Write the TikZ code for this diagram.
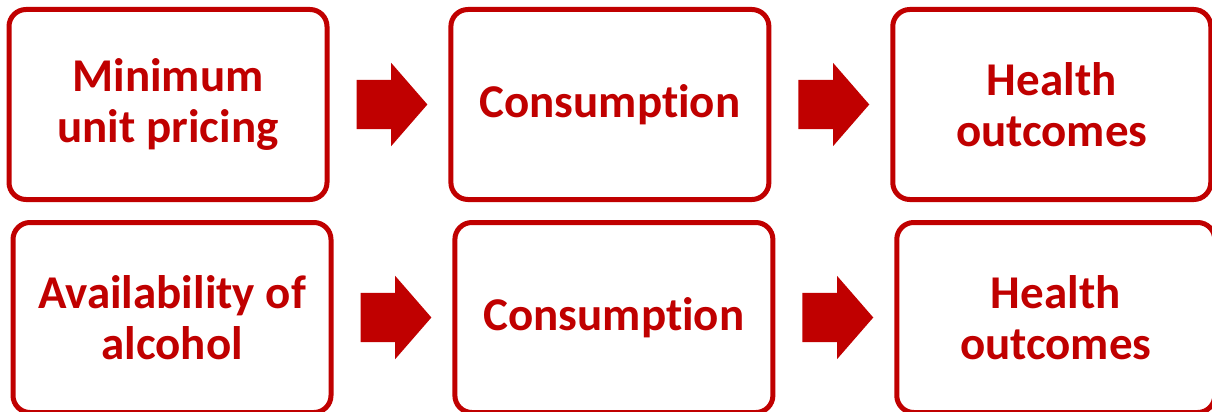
\documentclass[tikz,border=0pt]{standalone}
\usepackage{fontspec}
\setmainfont{Carlito}[Ligatures=NoCommon]
\usetikzlibrary{positioning,shapes.arrows}
\definecolor{pricered}{HTML}{C00000}
\tikzset{
    chainbox/.style={draw=pricered, line width=5pt, rounded corners=17pt, align=center, minimum width=318pt, minimum height=190pt, text=pricered, font=\fontsize{47}{51.6}\selectfont\bfseries},
    chainarrow/.style={single arrow, fill=pricered, draw=none, inner sep=24.5pt, outer sep=0pt, minimum height=70pt, minimum width=83pt, single arrow head extend=17pt, single arrow tip angle=98}
}

\begin{document}
\begin{tikzpicture}[x=1pt, y=1pt]
    \useasboundingbox (0,0) rectangle (1212,-412);
    % top row
    \node[chainbox] (mup) at (168,-104.5) {Minimum\\unit pricing};
    \node[chainarrow, right=27pt of mup] (mupto) {};
    \node[chainbox, right=21pt of mupto] (mupcons) {Consumption};
    \node[chainarrow, right=27pt of mupcons] (mupconsto) {};
    \node[chainbox, right=21pt of mupconsto] (muphealth) {Health\\outcomes};

    % bottom row
    \node[chainbox, below=18pt of mup, xshift=4pt] (avail) {Availability of\\alcohol};
    \node[chainarrow, right=27pt of avail] (availto) {};
    \node[chainbox, right=21pt of availto] (availcons) {Consumption};
    \node[chainarrow, right=27pt of availcons] (availconsto) {};
    \node[chainbox, right=21pt of availconsto] (availhealth) {Health\\outcomes};
\end{tikzpicture}
\end{document}
